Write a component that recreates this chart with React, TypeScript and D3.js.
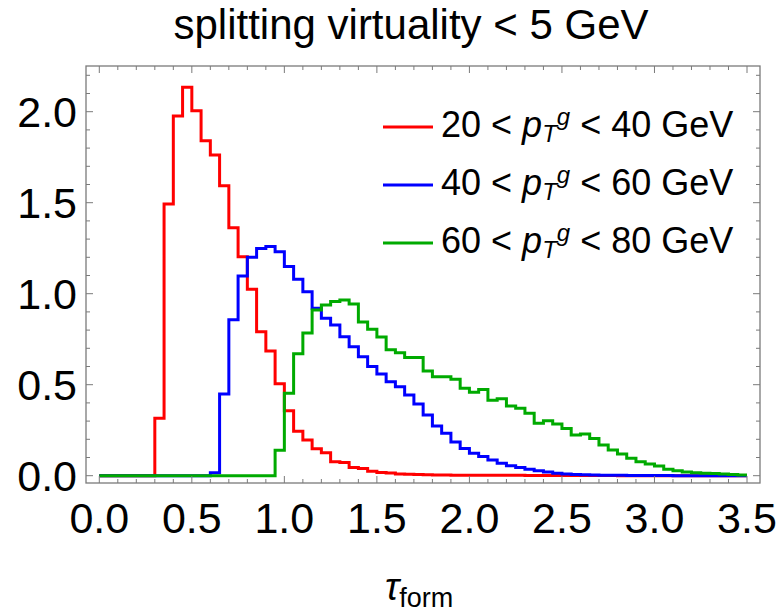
import React from "react";
import * as d3 from "d3";

const BIN = 0.05;
const NBINS = 70;

const redStart = 0.3;
const redValues = [
  0.315, 1.493, 1.976, 2.134, 2.005, 1.841, 1.762, 1.593, 1.363, 1.203,
  1.024, 0.791, 0.685, 0.505, 0.357, 0.244, 0.196, 0.148, 0.126, 0.077,
  0.072, 0.045, 0.04, 0.024, 0.018, 0.015, 0.01, 0.008, 0.006, 0.005,
  0.004, 0.004, 0.003, 0.003, 0.002, 0.002, 0.002, 0.002, 0.002, 0.002,
  0.001, 0.001, 0.001, 0.001, 0.001, 0.001, 0.001, 0.001, 0.001, 0.001,
];

const blueStart = 0.6;
const blueValues = [
  0.016, 0.449, 0.857, 1.097, 1.2, 1.248, 1.26, 1.23, 1.149, 1.08,
  1.011, 0.92, 0.865, 0.828, 0.764, 0.709, 0.654, 0.6, 0.559, 0.516,
  0.489, 0.443, 0.394, 0.333, 0.273, 0.233, 0.185, 0.15, 0.124, 0.105,
  0.086, 0.069, 0.054, 0.045, 0.035, 0.027, 0.02, 0.014, 0.01, 0.007,
  0.005, 0.004, 0.003, 0.002, 0.002, 0.001, 0.001, 0.001, 0.001, 0.001,
];

const greenStart = 0.95;
const greenValues = [
  0.14, 0.453, 0.67, 0.784, 0.91, 0.938, 0.957, 0.965, 0.943, 0.845,
  0.804, 0.762, 0.692, 0.676, 0.65, 0.65, 0.575, 0.544, 0.544, 0.53,
  0.48, 0.458, 0.473, 0.414, 0.423, 0.383, 0.37, 0.343, 0.288, 0.302,
  0.284, 0.26, 0.224, 0.229, 0.205, 0.169, 0.141, 0.119, 0.096, 0.077,
  0.064, 0.053, 0.035, 0.027, 0.02, 0.016, 0.013, 0.012, 0.009, 0.007,
  0.004,
];

const seriesNames = ["20", "40", "60"];
const seriesUpper = ["40", "60", "80"];
const seriesColors = ["#ff0000", "#0000ff", "#00aa00"];

const xTickLabels = ["0.0", "0.5", "1.0", "1.5", "2.0", "2.5", "3.0", "3.5"];
const yTickLabels = ["0.0", "0.5", "1.0", "1.5", "2.0"];

function fullSeries(start: number, values: number[]) {
  const s = Math.round(start / BIN);
  const arr: [number, number][] = [];
  for (let i = 0; i < NBINS; i++) {
    const j = i - s;
    const v = j >= 0 && j < values.length ? values[j] : 0;
    arr.push([i * BIN, v]);
  }
  arr.push([NBINS * BIN, arr[arr.length - 1][1]]);
  return arr;
}

const FONT = "'Liberation Sans', Arial, Helvetica, sans-serif";

export default function App() {
  const x = d3.scaleLinear().domain([0, 3.5]).range([99.3, 747]);
  const y = d3.scaleLinear().domain([0, 2]).range([475.7, 111.7]);
  const frame = { left: 86, right: 760, top: 66, bottom: 483 };

  const line = d3
    .line<[number, number]>()
    .x((d) => x(d[0]))
    .y((d) => y(d[1]))
    .curve(d3.curveStepAfter);

  const data = [
    fullSeries(redStart, redValues),
    fullSeries(blueStart, blueValues),
    fullSeries(greenStart, greenValues),
  ];

  const xMinor = d3.range(0, 36).map((i) => i * 0.1);
  const yMinor = d3.range(0, 23).map((i) => i * 0.1);
  const frameColor = "#7a7a7a";

  const ticks: JSX.Element[] = [];
  xMinor.forEach((v, i) => {
    const major = i % 5 === 0;
    const len = major ? 7 : 4;
    const px = x(v);
    ticks.push(
      <line key={"xb" + i} x1={px} x2={px} y1={frame.bottom} y2={frame.bottom - len} stroke={frameColor} strokeWidth={1} />,
      <line key={"xt" + i} x1={px} x2={px} y1={frame.top} y2={frame.top + len} stroke={frameColor} strokeWidth={1} />
    );
  });
  yMinor.forEach((v, i) => {
    const major = i % 5 === 0;
    const len = major ? 7 : 4;
    const py = y(v);
    ticks.push(
      <line key={"yl" + i} x1={frame.left} x2={frame.left + len} y1={py} y2={py} stroke={frameColor} strokeWidth={1} />,
      <line key={"yr" + i} x1={frame.right} x2={frame.right - len} y1={py} y2={py} stroke={frameColor} strokeWidth={1} />
    );
  });

  return (
    <svg
      width={779}
      height={612}
      style={{ position: "absolute", left: 0, top: 0, background: "#fff" }}
      fontFamily={FONT}
    >
      <rect x={0} y={0} width={779} height={612} fill="#fff" />
      <text x={411} y={38.5} fontSize={42} textAnchor="middle" fill="#000">
        splitting virtuality &lt; 5 GeV
      </text>

      {data.map((d, i) => (
        <path
          key={i}
          d={line(d) || ""}
          fill="none"
          stroke={seriesColors[i]}
          strokeWidth={3}
          strokeLinejoin="miter"
        />
      ))}

      <rect
        x={frame.left}
        y={frame.top}
        width={frame.right - frame.left}
        height={frame.bottom - frame.top}
        fill="none"
        stroke={frameColor}
        strokeWidth={1.3}
      />
      {ticks}

      {xTickLabels.map((t) => (
        <text key={t} x={x(+t)} y={533} fontSize={43} textAnchor="middle" fill="#000">
          {t}
        </text>
      ))}
      {yTickLabels.map((t) => (
        <text key={t} x={77} y={y(+t) + 15.5} fontSize={43} textAnchor="end" fill="#000">
          {t}
        </text>
      ))}

      <text x={385} y={600} fontSize={38} fontStyle="italic" fill="#000">
        τ
        <tspan fontSize={27} fontStyle="normal" dy={7}>
          form
        </tspan>
      </text>

      {seriesNames.map((n, i) => {
        const cy = 127 + i * 58;
        return (
          <g key={n}>
            <line x1={383} x2={433} y1={cy} y2={cy} stroke={seriesColors[i]} strokeWidth={3} />
            <text x={441} y={cy + 10} fontSize={36} fill="#000">
              {n} &lt;{" "}
              <tspan fontStyle="italic">p</tspan>
              <tspan fontStyle="italic" fontSize={24} dy={5}>
                T
              </tspan>
              <tspan fontStyle="italic" fontSize={24} dy={-17}>
                g
              </tspan>
              <tspan dy={12}> &lt; {seriesUpper[i]} GeV</tspan>
            </text>
          </g>
        );
      })}
    </svg>
  );
}
